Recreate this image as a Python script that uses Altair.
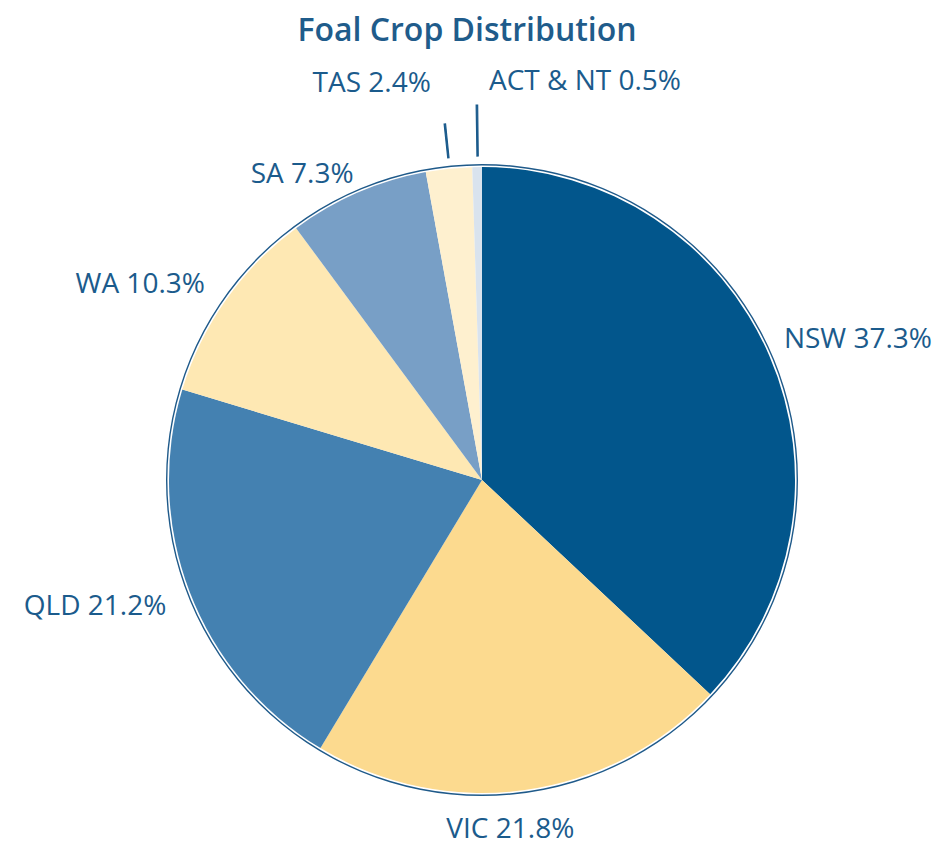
import math
import altair as alt
import pandas as pd

categories = ["NSW", "VIC", "QLD", "WA", "SA", "TAS", "ACT & NT"]
values = [37.3, 21.8, 21.2, 10.3, 7.3, 2.4, 0.5]
colors = ["#02568C", "#FCDA8F", "#4481B1", "#FEE8B3", "#789FC6", "#FEF0CF", "#D9E3EE"]
labels = [f"{c} {v}%" for c, v in zip(categories, values)]
title_text = "Foal Crop Distribution"

TXT = "#1B5B8C"
CX, CY = 474, 472
R_PIE = 313
R_LABEL = 390
FONT = "Open Sans"

# label nudges (style only)
offsets = {
    "NSW": (18, 15),
    "VIC": (-25, -36),
    "QLD": (-23, -13),
    "WA": (-23, 30),
    "SA": (-25, 53),
    "TAS": (-69, -8),
    "ACT & NT": (109, -8),
}
leaders = {"TAS": (324, 358), "ACT & NT": (324, 375)}

df = pd.DataFrame({"cat": categories, "value": values, "label": labels,
                   "idx": list(range(len(categories)))})

pie = alt.Chart(df).mark_arc(outerRadius=R_PIE).encode(
    theta=alt.Theta("value:Q", stack=True),
    color=alt.Color("cat:N", scale=alt.Scale(domain=categories, range=colors), legend=None),
    order=alt.Order("idx:Q"),
    x=alt.value(CX), y=alt.value(CY),
)

ring = alt.Chart(pd.DataFrame({"k": [0]})).mark_arc(
    radius=316, radius2=314.6, theta=0, theta2=2 * math.pi, color="#1F5A8A"
).encode(x=alt.value(CX), y=alt.value(CY))

base = (
    alt.Chart(df)
    .transform_window(cum="sum(value)", sort=[{"field": "idx"}])
    .transform_joinaggregate(total="sum(value)")
    .transform_calculate(mid="2*PI*(datum.cum - datum.value/2)/datum.total",
                         mid2="2*PI*(datum.cum - datum.value/2)/datum.total + 0.004")
)

layers = [pie, ring]
for cat, (ddx, ddy) in offsets.items():
    layers.append(
        base.transform_filter(alt.datum.cat == cat)
        .mark_text(font=FONT, fontSize=28, color=TXT, align="center", baseline="middle",
                   dx=ddx, dy=ddy)
        .encode(theta=alt.Theta("mid:Q", scale=None), radius=alt.value(R_LABEL),
                text="label:N", x=alt.value(CX), y=alt.value(CY))
    )
for cat, (r1, r2) in leaders.items():
    layers.append(
        base.transform_filter(alt.datum.cat == cat)
        .mark_arc(radius=r1, radius2=r2, color=TXT, stroke=TXT, strokeWidth=1.2)
        .encode(theta=alt.Theta("mid:Q", scale=None), theta2="mid2:Q",
                x=alt.value(CX), y=alt.value(CY))
    )

title = alt.Chart(pd.DataFrame({"t": [title_text]})).mark_text(
    font=FONT, fontSize=32, fontWeight=600, color="#1F5C8B", align="center", baseline="middle"
).encode(text="t:N", x=alt.value(459), y=alt.value(23))
layers.append(title)

chart = alt.layer(*layers).properties(
    width=927, height=838, autosize="none", padding=0
).configure_view(stroke=None)

chart.save("out.html", embed_options={"renderer": "svg", "actions": False})
